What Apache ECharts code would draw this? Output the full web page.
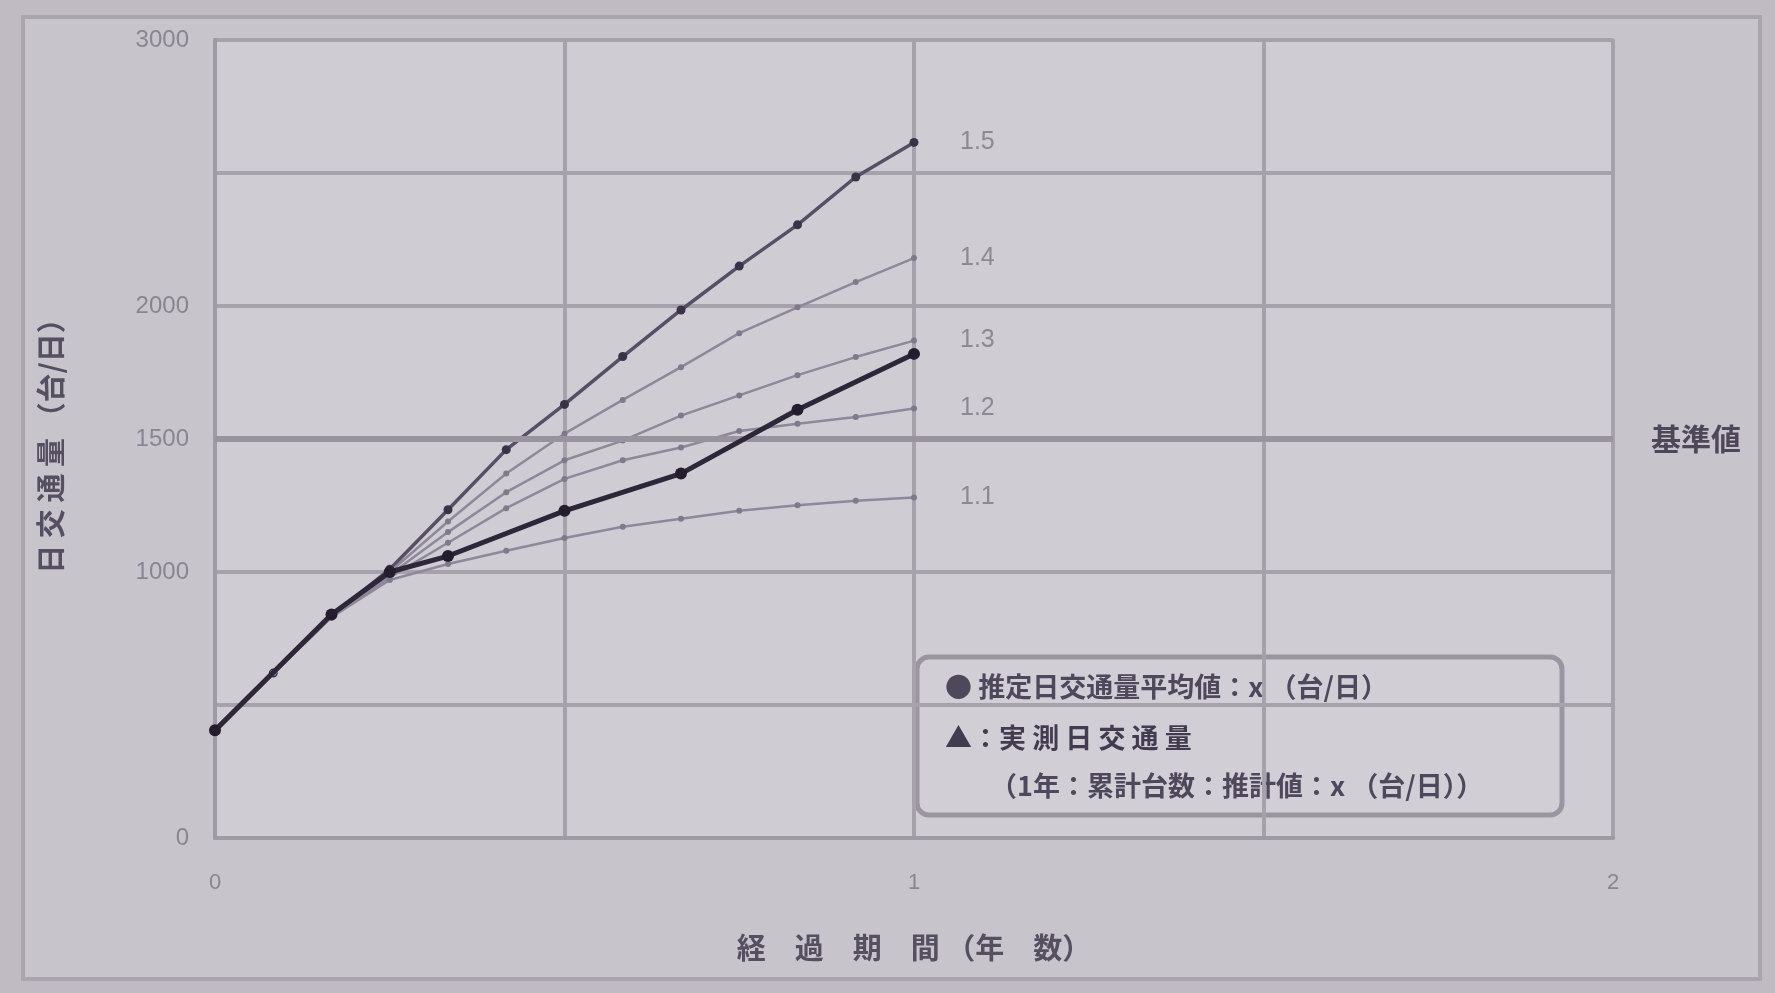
<!DOCTYPE html>
<html>
<head>
<meta charset="utf-8">
<script src="https://cdn.jsdelivr.net/npm/echarts@6/dist/echarts.min.js"></script>
<style>
html, body { margin: 0; padding: 0; background: #c0bbc3; }
#main { width: 1775px; height: 993px; }
</style>
</head>
<body>
<div id="main"></div>
<script>
// 経過月 (0〜12ヶ月) ごとの推計値
var months = [0, 1, 2, 3, 4, 5, 6, 7, 8, 9, 10, 11, 12];
var est15 = [400, 620, 835, 1010, 1234, 1460, 1630, 1810, 1985, 2150, 2305, 2485, 2615];
var est14 = [400, 620, 830, 1000, 1190, 1370, 1520, 1647, 1770, 1898, 1995, 2090, 2180];
var est13 = [400, 620, 830, 990, 1150, 1300, 1420, 1494, 1588, 1664, 1740, 1808, 1870];
var est12 = [400, 620, 830, 980, 1110, 1240, 1350, 1420, 1468, 1530, 1557, 1583, 1615];
var est11 = [400, 620, 830, 970, 1030, 1080, 1128, 1170, 1200, 1230, 1251, 1268, 1280];
var rateLabels = ['1.5', '1.4', '1.3', '1.2', '1.1'];

// 実測値
var measuredMonths = [0, 2, 3, 4, 6, 8, 10, 12];
var measured = [405, 840, 1000, 1060, 1230, 1370, 1610, 1820];

var xTicks = [0, 1, 2];
var yTicks = [0, 1000, 1500, 2000, 3000];
var baseValue = 1500;

function toPairs(ms, vals) {
    return ms.map(function (m, i) { return [m / 12, vals[i]]; });
}

var jp = '"Noto Sans CJK JP", "Noto Sans", sans-serif';
var num = '"Liberation Sans", sans-serif';
var estSets = [est15, est14, est13, est12, est11];

var series = estSets.map(function (vals, i) {
    var top = i === 0;
    return {
        name: rateLabels[i],
        type: 'line',
        data: toPairs(months, vals),
        symbol: 'circle',
        symbolSize: top ? 9 : 6,
        lineStyle: { color: top ? '#564f65' : '#8e889a', width: top ? 3.5 : 2.5 },
        itemStyle: { color: top ? '#3a3348' : '#7f798b' },
        endLabel: {
            show: true,
            formatter: rateLabels[i],
            distance: 46,
            color: '#8d8894',
            fontSize: 25,
            fontFamily: num
        },
        z: 3
    };
});

series.push({
    name: '実測',
    type: 'line',
    data: toPairs(measuredMonths, measured),
    symbol: 'circle',
    symbolSize: 12,
    lineStyle: { color: '#2e2639', width: 5 },
    itemStyle: { color: '#241d2e' },
    z: 5,
    markLine: {
        silent: true,
        symbol: 'none',
        lineStyle: { color: '#99939f', width: 6, type: 'solid' },
        label: {
            position: 'end',
            formatter: '基準値',
            distance: 38,
            color: '#4e475a',
            fontSize: 30,
            fontWeight: 'bold',
            fontFamily: jp
        },
        data: [{ yAxis: baseValue }]
    }
});

var chart = echarts.init(document.getElementById('main'));
chart.setOption({
    backgroundColor: '#c0bbc3',
    animation: false,
    graphic: [
        {
            type: 'rect', z: -10,
            shape: { x: 23, y: 17, width: 1737, height: 962 },
            style: { fill: '#c8c4cb', stroke: '#a9a4ae', lineWidth: 4 }
        },
        {
            type: 'group', z: 100,
            children: [
                {
                    type: 'rect',
                    shape: { x: 917, y: 657, width: 645, height: 158, r: 12 },
                    style: { fill: '#d2ced6', stroke: '#9a95a1', lineWidth: 5 }
                },
                {
                    type: 'text', left: 945, top: 673,
                    style: { text: '● 推定日交通量平均値：x （台/日）', fill: '#4f485c', fontSize: 27, fontWeight: 'bold', fontFamily: jp }
                },
                {
                    type: 'text', left: 945, top: 724,
                    style: { text: '▲：実 測 日 交 通 量', fill: '#433c50', fontSize: 27, fontWeight: 'bold', fontFamily: jp }
                },
                {
                    type: 'text', left: 990, top: 772,
                    style: { text: '（1年：累計台数：推計値：x （台/日））', fill: '#4f485c', fontSize: 27, fontWeight: 'bold', fontFamily: jp }
                }
            ]
        }
    ],
    grid: {
        left: 215, right: 162, top: 40, bottom: 155,
        show: true,
        backgroundColor: '#d0ccd3',
        borderColor: '#a29da8',
        borderWidth: 3
    },
    xAxis: {
        type: 'value',
        min: 0, max: 2, interval: 0.5,
        name: '経　過　期　間 （年　数）',
        nameLocation: 'middle',
        nameGap: 95,
        nameTextStyle: { color: '#564f62', fontSize: 29, fontWeight: 'bold', fontFamily: jp },
        axisLine: { lineStyle: { color: '#9f9aa5', width: 4 } },
        axisTick: { show: false },
        axisLabel: {
            margin: 34,
            color: '#8a8590',
            fontSize: 22,
            fontFamily: num,
            formatter: function (v) { return xTicks.indexOf(v) >= 0 ? String(v) : ''; }
        },
        splitLine: { lineStyle: { color: '#a6a1ab', width: 4 } }
    },
    yAxis: {
        type: 'value',
        min: 0, max: 3000, interval: 500,
        name: '日 交 通 量 （台/日）',
        nameLocation: 'middle',
        nameGap: 150,
        nameRotate: 90,
        nameTextStyle: { color: '#564f62', fontSize: 29, fontWeight: 'bold', fontFamily: jp },
        axisLine: { show: true, lineStyle: { color: '#9f9aa5', width: 4 } },
        axisTick: { show: false },
        axisLabel: {
            margin: 26,
            color: '#8a8590',
            fontSize: 24,
            fontFamily: num,
            formatter: function (v) { return yTicks.indexOf(v) >= 0 ? String(v) : ''; }
        },
        splitLine: { lineStyle: { color: '#a6a1ab', width: 4 } }
    },
    series: series
});
</script>
</body>
</html>
